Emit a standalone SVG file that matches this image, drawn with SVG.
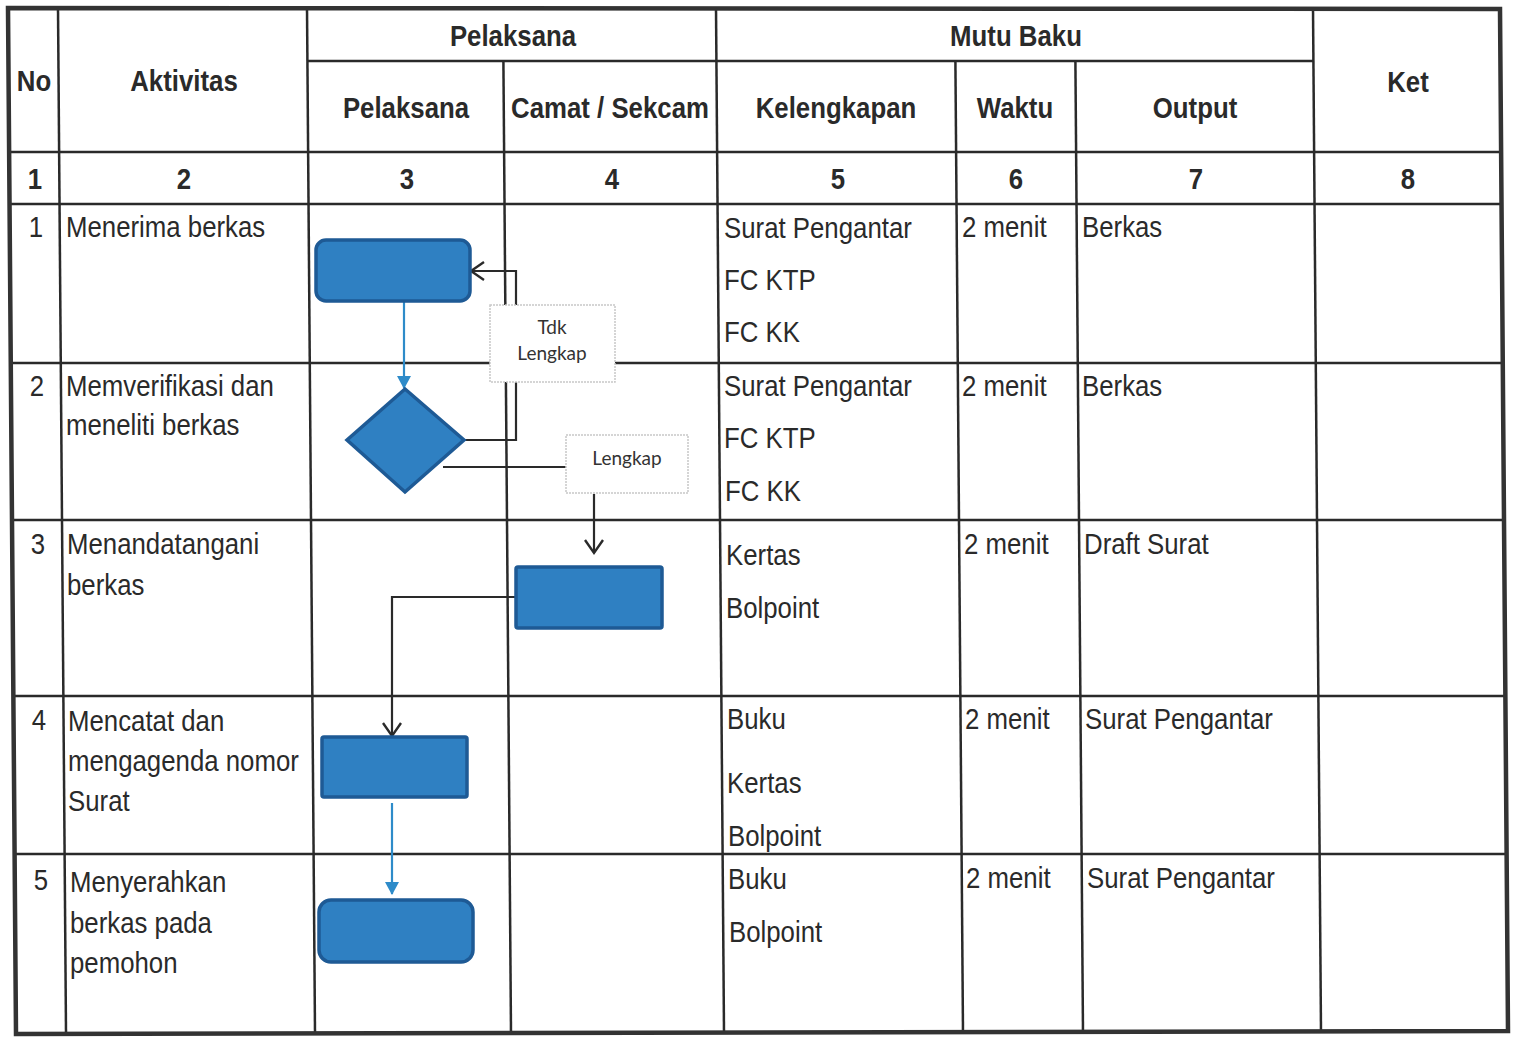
<svg xmlns="http://www.w3.org/2000/svg" width="1515" height="1040" viewBox="0 0 1515 1040">
<style>
.bg{fill:#ffffff}
.grid line{stroke:#2a2a2a;stroke-width:2.5}
.outer{fill:none;stroke:#333;stroke-width:4.5}
.h{font-family:"Liberation Sans",Arial,sans-serif;font-weight:bold;font-size:30px;fill:#2a2a2a;text-anchor:middle}
.t{font-family:"Liberation Sans",Arial,sans-serif;font-size:30px;fill:#2a2a2a}
.n{text-anchor:middle}
.box{fill:#2f80c2;stroke:#1e5a95;stroke-width:3.5}
.lbl{fill:#ffffff;stroke:#c8c8c8;stroke-width:1.5;stroke-dasharray:2 1}
.lt{font-family:Lato,"Open Sans",sans-serif;font-size:19px;fill:#333;text-anchor:middle}
.cb{fill:none;stroke:#2e8bc9;stroke-width:2.2}
.ck{fill:none;stroke:#2a2a2a;stroke-width:2.2}
</style>
<defs>
<marker id="ab" markerWidth="14" markerHeight="14" refX="12" refY="7" orient="auto" markerUnits="userSpaceOnUse"><path d="M0,0 L13,7 L0,14 Z" fill="#2e8bc9"/></marker>
<marker id="ak" markerWidth="18" markerHeight="20" refX="14" refY="10" orient="auto" markerUnits="userSpaceOnUse"><path d="M1,1 L14,10 L1,19" fill="none" stroke="#2a2a2a" stroke-width="2.4"/></marker>
</defs>
<rect class="bg" x="0" y="0" width="1515" height="1040"/>
<g id="table">
<g class="grid">
<line x1="307.4" y1="61" x2="1313.4" y2="61"/>
<line x1="9.1" y1="152" x2="1501.1" y2="152"/>
<line x1="9.5" y1="204" x2="1501.5" y2="204"/>
<line x1="10.8" y1="363" x2="1502.8" y2="363"/>
<line x1="12" y1="520" x2="1504" y2="520"/>
<line x1="13.4" y1="696" x2="1505.4" y2="696"/>
<line x1="14.6" y1="854" x2="1506.6" y2="854"/>
<line x1="58" y1="8" x2="66" y2="1033"/>
<line x1="307" y1="8" x2="315" y2="1033"/>
<line x1="503.4" y1="61" x2="511" y2="1033"/>
<line x1="716" y1="8" x2="724" y2="1033"/>
<line x1="955.4" y1="61" x2="963" y2="1033"/>
<line x1="1075.4" y1="61" x2="1083" y2="1033"/>
<line x1="1313" y1="8" x2="1321" y2="1033"/>
</g>
<polygon class="outer" points="8,8 1500,9 1508,1031 16,1034"/>
</g>
<g id="headers">
<text class="h" transform="translate(34,91) scale(0.86,1)">No</text>
<text class="h" transform="translate(184,91) scale(0.86,1)">Aktivitas</text>
<text class="h" transform="translate(513,46) scale(0.86,1)">Pelaksana</text>
<text class="h" transform="translate(406,118) scale(0.86,1)">Pelaksana</text>
<text class="h" transform="translate(610,118) scale(0.86,1)">Camat / Sekcam</text>
<text class="h" transform="translate(1016,46) scale(0.86,1)">Mutu Baku</text>
<text class="h" transform="translate(836,118) scale(0.86,1)">Kelengkapan</text>
<text class="h" transform="translate(1015,118) scale(0.86,1)">Waktu</text>
<text class="h" transform="translate(1195,118) scale(0.86,1)">Output</text>
<text class="h" transform="translate(1408,92) scale(0.86,1)">Ket</text>
<text class="h" transform="translate(35,189) scale(0.86,1)">1</text>
<text class="h" transform="translate(184,189) scale(0.86,1)">2</text>
<text class="h" transform="translate(407,189) scale(0.86,1)">3</text>
<text class="h" transform="translate(612,189) scale(0.86,1)">4</text>
<text class="h" transform="translate(838,189) scale(0.86,1)">5</text>
<text class="h" transform="translate(1016,189) scale(0.86,1)">6</text>
<text class="h" transform="translate(1196,189) scale(0.86,1)">7</text>
<text class="h" transform="translate(1408,189) scale(0.86,1)">8</text>
</g>
<g id="row1">
<text class="t n" transform="translate(36,237) scale(0.86,1)">1</text>
<text class="t" transform="translate(66,237) scale(0.86,1)">Menerima berkas</text>
<text class="t" transform="translate(724,238) scale(0.86,1)">Surat Pengantar</text>
<text class="t" transform="translate(724,290) scale(0.86,1)">FC KTP</text>
<text class="t" transform="translate(724,342) scale(0.86,1)">FC KK</text>
<text class="t" transform="translate(962,237) scale(0.86,1)">2 menit</text>
<text class="t" transform="translate(1082,237) scale(0.86,1)">Berkas</text>
</g>
<g id="row2">
<text class="t n" transform="translate(37,396) scale(0.86,1)">2</text>
<text class="t" transform="translate(66,396) scale(0.86,1)">Memverifikasi dan</text>
<text class="t" transform="translate(66,435) scale(0.86,1)">meneliti berkas</text>
<text class="t" transform="translate(724,396) scale(0.86,1)">Surat Pengantar</text>
<text class="t" transform="translate(724,448) scale(0.86,1)">FC KTP</text>
<text class="t" transform="translate(725,501) scale(0.86,1)">FC KK</text>
<text class="t" transform="translate(962,396) scale(0.86,1)">2 menit</text>
<text class="t" transform="translate(1082,396) scale(0.86,1)">Berkas</text>
</g>
<g id="row3">
<text class="t n" transform="translate(38,554) scale(0.86,1)">3</text>
<text class="t" transform="translate(67,554) scale(0.86,1)">Menandatangani</text>
<text class="t" transform="translate(67,595) scale(0.86,1)">berkas</text>
<text class="t" transform="translate(726,565) scale(0.86,1)">Kertas</text>
<text class="t" transform="translate(726,618) scale(0.86,1)">Bolpoint</text>
<text class="t" transform="translate(964,554) scale(0.86,1)">2 menit</text>
<text class="t" transform="translate(1084,554) scale(0.86,1)">Draft Surat</text>
</g>
<g id="row4">
<text class="t n" transform="translate(39,730) scale(0.86,1)">4</text>
<text class="t" transform="translate(68,731) scale(0.86,1)">Mencatat dan</text>
<text class="t" transform="translate(68,771) scale(0.86,1)">mengagenda nomor</text>
<text class="t" transform="translate(68,811) scale(0.86,1)">Surat</text>
<text class="t" transform="translate(727,729) scale(0.86,1)">Buku</text>
<text class="t" transform="translate(727,793) scale(0.86,1)">Kertas</text>
<text class="t" transform="translate(728,846) scale(0.86,1)">Bolpoint</text>
<text class="t" transform="translate(965,729) scale(0.86,1)">2 menit</text>
<text class="t" transform="translate(1085,729) scale(0.86,1)">Surat Pengantar</text>
</g>
<g id="row5">
<text class="t n" transform="translate(41,890) scale(0.86,1)">5</text>
<text class="t" transform="translate(70,892) scale(0.86,1)">Menyerahkan</text>
<text class="t" transform="translate(70,933) scale(0.86,1)">berkas pada</text>
<text class="t" transform="translate(70,973) scale(0.86,1)">pemohon</text>
<text class="t" transform="translate(728,889) scale(0.86,1)">Buku</text>
<text class="t" transform="translate(729,942) scale(0.86,1)">Bolpoint</text>
<text class="t" transform="translate(966,888) scale(0.86,1)">2 menit</text>
<text class="t" transform="translate(1087,888) scale(0.86,1)">Surat Pengantar</text>
</g>
<g id="connectors">
<line class="cb" x1="404" y1="301" x2="404" y2="388" marker-end="url(#ab)"/>
<polyline class="ck" points="465,440 516,440 516,271 471,271" marker-end="url(#ak)"/>
<polyline class="ck" points="443,467 566,467"/>
<line class="ck" x1="594" y1="494" x2="594" y2="553" marker-end="url(#ak)"/>
<polyline class="ck" points="516,597 392,597 392,736" marker-end="url(#ak)"/>
<line class="cb" x1="392" y1="803" x2="392" y2="894" marker-end="url(#ab)"/>
</g>
<g id="start"><rect class="box" x="316" y="240" width="154" height="61" rx="10"/></g>
<g id="decision"><polygon class="box" points="405,389 464,440 405,492 347,440"/></g>
<g id="label-tdk"><rect class="lbl" x="490" y="305" width="125" height="77"/><text class="lt" x="552" y="334">Tdk</text><text class="lt" x="552" y="360">Lengkap</text></g>
<g id="label-lengkap"><rect class="lbl" x="566" y="435" width="122" height="58"/><text class="lt" x="627" y="465">Lengkap</text></g>
<g id="sign"><rect class="box" x="516" y="567" width="146" height="61" rx="2"/></g>
<g id="record"><rect class="box" x="322" y="737" width="145" height="60" rx="2"/></g>
<g id="end"><rect class="box" x="319" y="900" width="154" height="62" rx="12"/></g>
</svg>
